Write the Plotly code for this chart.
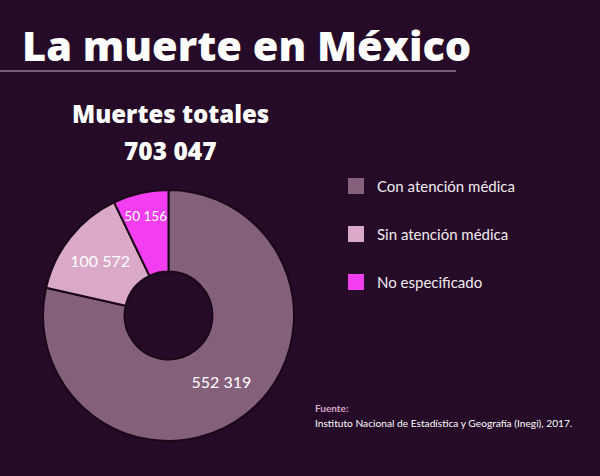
import plotly.graph_objects as go

categories = ["Con atención médica", "Sin atención médica", "No especificado"]
values = [552319, 100572, 50156]
colors = ["#85607b", "#d9a9c7", "#f23ef0"]
total_label = "703 047"

BG = "#250b27"
W, H = 600, 476

def px(x):
    return x / W

def py(y):
    return 1 - y / H

fig = go.Figure()
fig.add_trace(go.Pie(
    labels=categories,
    values=values,
    hole=0.35,
    sort=False,
    direction="clockwise",
    rotation=0,
    marker=dict(colors=colors, line=dict(color="#1a0819", width=2)),
    texttemplate="%{value:,}",
    textposition="inside",
    insidetextorientation="horizontal",
    textfont=dict(family="Lato", size=16, color="white"),
    domain=dict(x=[px(43), px(294)], y=[py(441), py(190)]),
    showlegend=False,
    hoverinfo="label+value",
))

ann = []
shapes = []
# Title
ann.append(dict(text="La muerte en México", x=px(20), y=py(45), xref="paper", yref="paper",
                xanchor="left", yanchor="middle", showarrow=False,
                font=dict(family="Open Sans", size=41.5, weight=800, color="white")))
shapes.append(dict(type="line", xref="paper", yref="paper", x0=0, x1=px(456), y0=py(71), y1=py(71),
                   line=dict(color="#7d5b78", width=2)))
# Subtitle
ann.append(dict(text="Muertes totales", x=px(170), y=py(113), xref="paper", yref="paper",
                xanchor="center", yanchor="middle", showarrow=False,
                font=dict(family="Open Sans", size=24, weight=800, color="white")))
ann.append(dict(text=total_label, x=px(170), y=py(150), xref="paper", yref="paper",
                xanchor="center", yanchor="middle", showarrow=False,
                font=dict(family="Open Sans", size=24.5, weight=800, color="white")))
# Legend
leg_y = [186, 234, 282]
for cat, col, yy in zip(categories, colors, leg_y):
    shapes.append(dict(type="rect", xref="paper", yref="paper",
                       x0=px(348), x1=px(364), y0=py(yy + 8), y1=py(yy - 8),
                       fillcolor=col, line=dict(width=0)))
    ann.append(dict(text=cat, x=px(375), y=py(yy), xref="paper", yref="paper",
                    xanchor="left", yanchor="middle", showarrow=False,
                    font=dict(family="Lato", size=15, color="#f2eaf0")))
# Source
ann.append(dict(text="<b>Fuente:</b>", x=px(313), y=py(408), xref="paper", yref="paper",
                xanchor="left", yanchor="middle", showarrow=False,
                font=dict(family="Lato", size=10, color="#d9a9c7")))
ann.append(dict(text="Instituto Nacional de Estadística y Geografía (Inegi), 2017.", x=px(313), y=py(423),
                xref="paper", yref="paper", xanchor="left", yanchor="middle", showarrow=False,
                font=dict(family="Lato", size=10.2, color="white")))

fig.update_layout(
    width=W, height=H,
    margin=dict(l=0, r=0, t=0, b=0),
    paper_bgcolor=BG, plot_bgcolor=BG,
    separators=". ",
    annotations=ann, shapes=shapes,
    showlegend=False,
)
fig.write_html("out.html")
